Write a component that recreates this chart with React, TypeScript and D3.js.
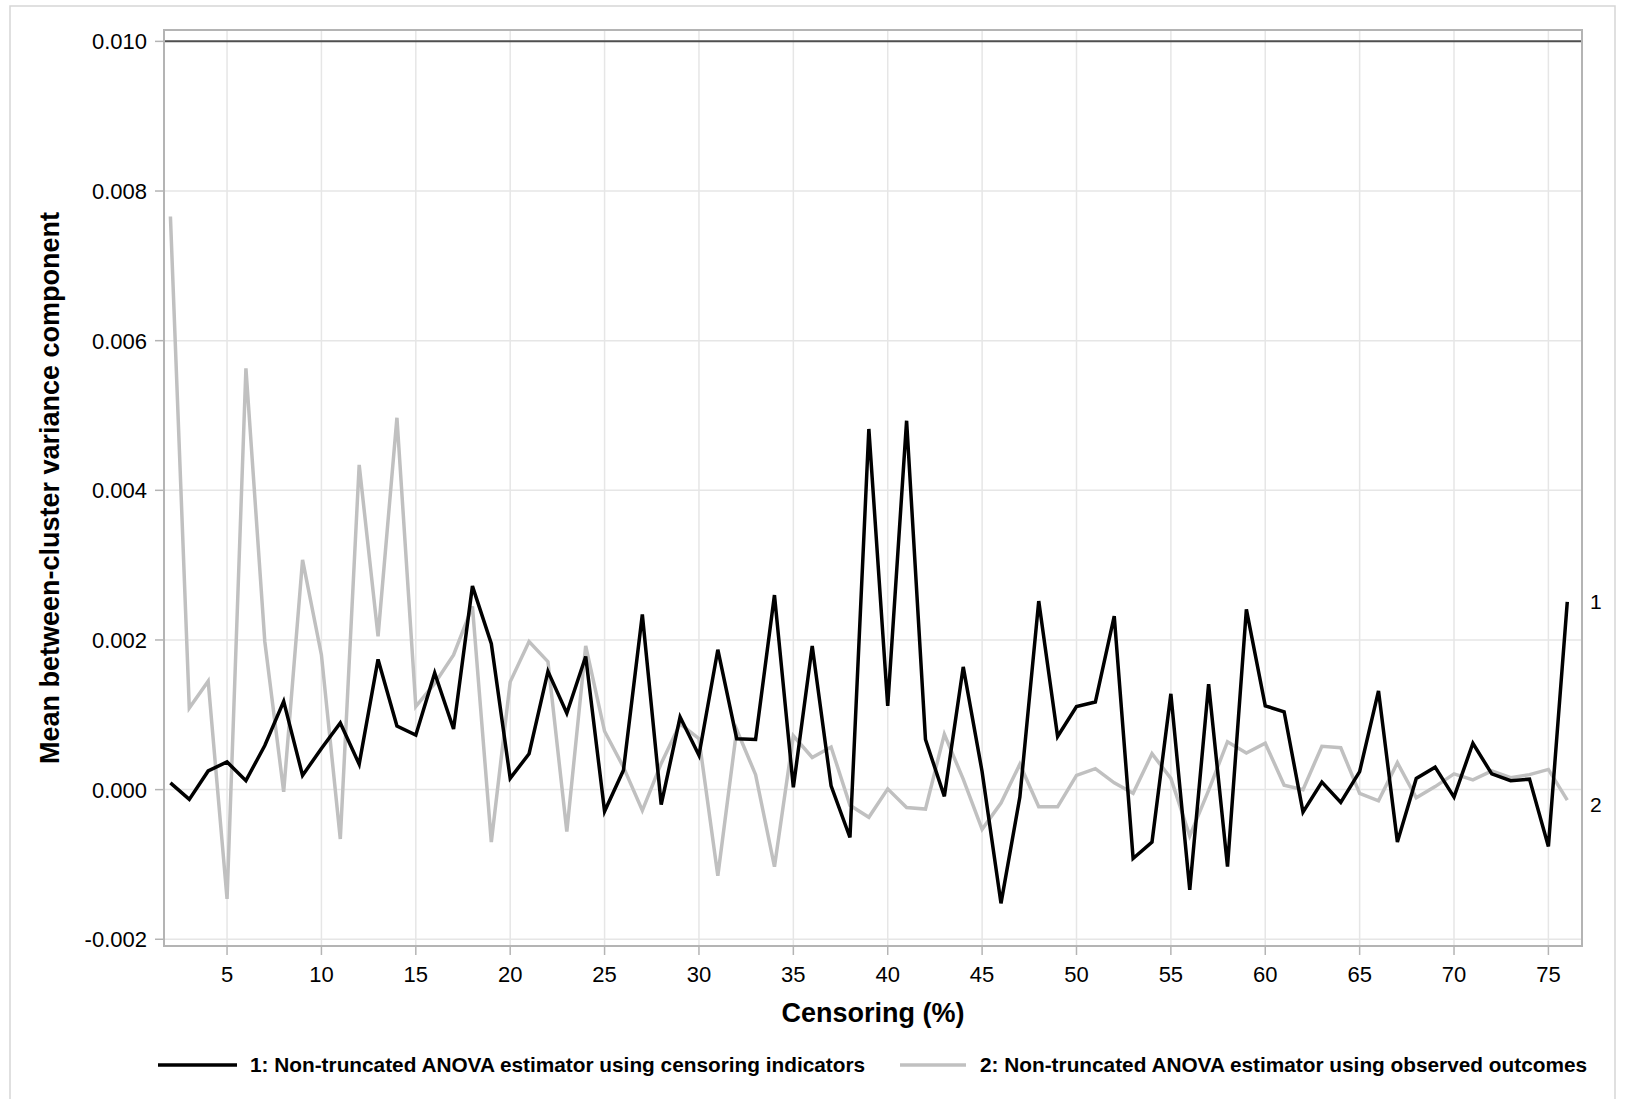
import * as d3 from "d3";

// censoring percentage (x)
const censoring = [
  2, 3, 4, 5, 6, 7, 8, 9, 10, 11, 12, 13, 14, 15, 16, 17, 18, 19, 20, 21, 22, 23, 24, 25,
  26, 27, 28, 29, 30, 31, 32, 33, 34, 35, 36, 37, 38, 39, 40, 41, 42, 43, 44, 45, 46, 47,
  48, 49, 50, 51, 52, 53, 54, 55, 56, 57, 58, 59, 60, 61, 62, 63, 64, 65, 66, 67, 68, 69,
  70, 71, 72, 73, 74, 75, 76,
];

// 1: censoring indicators
const series1 = [
  0.00009, -0.00013, 0.00025, 0.00037, 0.00012, 0.00059, 0.00118, 0.00019, 0.00055, 0.00089,
  0.00034, 0.00174, 0.00085, 0.00073, 0.00156, 0.00081, 0.00272, 0.00195, 0.00015, 0.00048,
  0.00158, 0.00102, 0.00178, -0.00029, 0.00026, 0.00234, -0.0002, 0.00097, 0.00046, 0.00187,
  0.00068, 0.00067, 0.0026, 0.00003, 0.00192, 0.00005, -0.00064, 0.00482, 0.00112, 0.00493,
  0.00067, -0.00009, 0.00164, 0.00024, -0.00152, -0.0001, 0.00252, 0.00071, 0.00111, 0.00117,
  0.00232, -0.00092, -0.0007, 0.00128, -0.00134, 0.00141, -0.00103, 0.00241, 0.00112, 0.00104,
  -0.0003, 0.0001, -0.00017, 0.00024, 0.00132, -0.0007, 0.00015, 0.0003, -0.0001, 0.00062,
  0.00021, 0.00012, 0.00014, -0.00076, 0.00251,
];

// 2: observed outcomes
const series2 = [
  0.00766, 0.00109, 0.00145, -0.00146, 0.00563, 0.00198, -0.00003, 0.00307, 0.0018, -0.00066,
  0.00434, 0.00205, 0.00497, 0.00111, 0.00142, 0.0018, 0.00245, -0.0007, 0.00144, 0.00198,
  0.00171, -0.00056, 0.00192, 0.00078, 0.0003, -0.00028, 0.00035, 0.00088, 0.00068, -0.00115,
  0.0008, 0.0002, -0.00103, 0.00072, 0.00043, 0.00057, -0.00021, -0.00037, 0.00001, -0.00024,
  -0.00026, 0.00074, 0.00014, -0.00053, -0.00018, 0.00034, -0.00023, -0.00023, 0.00019, 0.00028,
  0.00009, -0.00005, 0.00048, 0.00015, -0.00062, -0.00001, 0.00064, 0.00049, 0.00062, 0.00006,
  0, 0.00058, 0.00056, -0.00005, -0.00015, 0.00036, -0.00011, 0.00004, 0.00021, 0.00013,
  0.00025, 0.00016, 0.0002, 0.00027, -0.00014,
];

const xTicks = [5, 10, 15, 20, 25, 30, 35, 40, 45, 50, 55, 60, 65, 70, 75];
const yTicks = [-0.002, 0, 0.002, 0.004, 0.006, 0.008, 0.01];
const refValue = 0.01;

const legendLabels = [
  "1: Non-truncated ANOVA estimator using censoring indicators",
  "2: Non-truncated ANOVA estimator using observed outcomes",
];

const W = 1625;
const H = 1099;
const FONT = "Arial, 'Liberation Sans', Helvetica, sans-serif";
const BLACK = "#000000";
const GREY = "#c0c0c0";

export default function App() {
  const plot = { left: 164, right: 1582, top: 30, bottom: 946 };

  const x = d3.scaleLinear().domain([1.66, 76.78]).range([plot.left, plot.right]);
  const y = d3.scaleLinear().domain([-0.00209, 0.010152]).range([plot.bottom, plot.top]);

  const line = d3
    .line<number>()
    .x((_, i) => x(censoring[i]))
    .y((d) => y(d));

  // plain hyphen for negatives, as in the original
  const fmt = (v: number) => d3.format(".3f")(v).replace("\u2212", "-");
  const last = censoring.length - 1;

  return (
    <svg
      width={W}
      height={H}
      style={{ position: "absolute", left: 0, top: 0, background: "#fff" }}
      fontFamily={FONT}
    >
      {/* outer border */}
      <rect x={10} y={6} width={1605} height={1200} fill="none" stroke="#d6d6d6" strokeWidth={1.5} />

      {/* grid */}
      <g stroke="#e6e6e6" strokeWidth={1.5}>
        {xTicks.map((t) => (
          <line key={"gx" + t} x1={x(t)} x2={x(t)} y1={plot.top} y2={plot.bottom} />
        ))}
        {yTicks.map((t) => (
          <line key={"gy" + t} x1={plot.left} x2={plot.right} y1={y(t)} y2={y(t)} />
        ))}
      </g>

      {/* reference line */}
      <line
        x1={plot.left}
        x2={plot.right}
        y1={y(refValue)}
        y2={y(refValue)}
        stroke="#505050"
        strokeWidth={2}
      />

      {/* series */}
      <path d={line(series2) ?? ""} fill="none" stroke={GREY} strokeWidth={3.5} />
      <path d={line(series1) ?? ""} fill="none" stroke={BLACK} strokeWidth={3.5} />

      {/* frame */}
      <rect
        x={plot.left}
        y={plot.top}
        width={plot.right - plot.left}
        height={plot.bottom - plot.top}
        fill="none"
        stroke="#b4b4b4"
        strokeWidth={2}
      />

      {/* y axis */}
      <g>
        {yTicks.map((t) => (
          <g key={"yt" + t}>
            <line x1={plot.left - 9} x2={plot.left} y1={y(t)} y2={y(t)} stroke="#b4b4b4" strokeWidth={1.5} />
            <text x={plot.left - 17} y={y(t)} dy="0.36em" textAnchor="end" fontSize={22} fill="#000">
              {fmt(t)}
            </text>
          </g>
        ))}
      </g>

      {/* x axis */}
      <g>
        {xTicks.map((t) => (
          <g key={"xt" + t}>
            <line x1={x(t)} x2={x(t)} y1={plot.bottom} y2={plot.bottom + 9} stroke="#b4b4b4" strokeWidth={1.5} />
            <text x={x(t)} y={982} textAnchor="middle" fontSize={22} fill="#000">
              {t}
            </text>
          </g>
        ))}
      </g>

      {/* axis titles */}
      <text
        x={(plot.left + plot.right) / 2}
        y={1022}
        textAnchor="middle"
        fontSize={27}
        fontWeight="bold"
        fill="#000"
      >
        Censoring (%)
      </text>
      <text
        transform={`translate(59,${(plot.top + plot.bottom) / 2}) rotate(-90)`}
        textAnchor="middle"
        fontSize={27}
        fontWeight="bold"
        fill="#000"
      >
        Mean between-cluster variance component
      </text>

      {/* curve labels */}
      <text x={1590} y={y(series1[last])} dy="0.36em" fontSize={21} fill="#000">
        1
      </text>
      <text x={1590} y={y(series2[last]) + 4} dy="0.36em" fontSize={21} fill="#000">
        2
      </text>

      {/* legend */}
      <line x1={158} x2={237} y1={1065} y2={1065} stroke={BLACK} strokeWidth={3.5} />
      <text x={250} y={1065} dy="0.36em" fontSize={20.8} fontWeight="bold" fill="#000">
        {legendLabels[0]}
      </text>
      <line x1={900} x2={966} y1={1065} y2={1065} stroke={GREY} strokeWidth={3.5} />
      <text x={980} y={1065} dy="0.36em" fontSize={20.8} fontWeight="bold" fill="#000">
        {legendLabels[1]}
      </text>
    </svg>
  );
}
